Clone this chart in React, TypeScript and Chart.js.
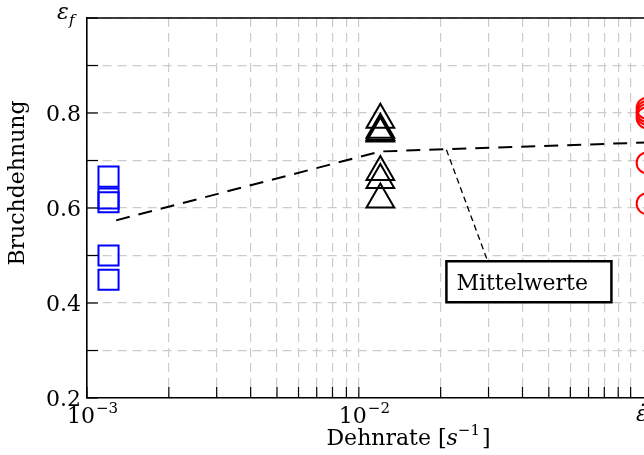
import React, { useEffect, useRef } from "react";
import { Chart, registerables } from "chart.js";

Chart.register(...registerables);

// ---- data ----
const squaresX = 0.0012;
const squaresY = [0.666, 0.62, 0.612, 0.5, 0.449];
const trianglesX = 0.012;
const trianglesY = [0.786, 0.765, 0.76, 0.757, 0.676, 0.659, 0.618];
const circlesX = 0.115;
const circlesY = [0.81, 0.803, 0.797, 0.79, 0.695, 0.609];
const meanX = [0.00128, 0.012, 0.115];
const meanY = [0.574, 0.719, 0.738];

const xTicks = [
  0.001, 0.002, 0.003, 0.004, 0.005, 0.006, 0.007, 0.008, 0.009,
  0.01, 0.02, 0.03, 0.04, 0.05, 0.06, 0.07, 0.08, 0.09,
  0.1, 0.2,
];
const xLabelTicks = [0.001, 0.01];
const xLabelExps = ["−3", "−2"];
const yTicks = [0.2, 0.3, 0.4, 0.5, 0.6, 0.7, 0.8, 0.9, 1.0];
const yLabelTicks = [0.2, 0.4, 0.6, 0.8];
const yLabels = ["0.2", "0.4", "0.6", "0.8"];
const xMin = 0.001;
const xMax = 0.24;
const yMin = 0.2;
const yMax = 1.0;

const annotFrom = { x: 0.021, y: 0.7226 };
const annotTo = { x: 0.0297, y: 0.49 };
const annotText = "Mittelwerte";

const FONT = '"DejaVu Serif"';

const overlay = {
  id: "overlay",
  afterDraw(chart: any) {
    const { ctx, chartArea: a } = chart;
    const x = chart.scales.x;
    const y = chart.scales.y;
    ctx.save();
    const line = (x1: number, y1: number, x2: number, y2: number) => {
      ctx.beginPath();
      ctx.moveTo(x1, y1);
      ctx.lineTo(x2, y2);
      ctx.stroke();
    };
    // top border
    ctx.strokeStyle = "#000";
    ctx.lineWidth = 1.6;
    line(a.left, a.top, a.right, a.top);
    // ticks (inside)
    ctx.lineWidth = 1.2;
    for (const v of xTicks) {
      const px = x.getPixelForValue(v);
      line(px, a.bottom, px, a.bottom - 11);
    }
    for (const v of yTicks) {
      const py = y.getPixelForValue(v);
      line(a.left, py, a.left + 11, py);
    }

    // annotation pointer
    const p1x = x.getPixelForValue(annotFrom.x);
    const p1y = y.getPixelForValue(annotFrom.y);
    const p2x = x.getPixelForValue(annotTo.x);
    const p2y = y.getPixelForValue(annotTo.y);
    ctx.setLineDash([6, 4]);
    ctx.lineWidth = 1.3;
    line(p1x, p1y, p2x, p2y);
    ctx.setLineDash([]);
    // annotation box
    const bx = p1x;
    const by = p2y + 1;
    const bw = 165;
    const bh = 41;
    ctx.fillStyle = "#fff";
    ctx.fillRect(bx, by, bw, bh);
    ctx.lineWidth = 2.5;
    ctx.strokeRect(bx, by, bw, bh);
    ctx.fillStyle = "#000";
    ctx.font = `22px ${FONT}`;
    ctx.textAlign = "left";
    ctx.textBaseline = "alphabetic";
    ctx.fillText(annotText, bx + 10, by + 28.5);

    // y tick labels
    ctx.textAlign = "right";
    yLabelTicks.forEach((v, i) => {
      const py = y.getPixelForValue(v);
      ctx.fillText(yLabels[i], a.left - 6, py + 8);
    });

    // x tick labels 10^n
    ctx.textAlign = "left";
    xLabelTicks.forEach((v, i) => {
      const px = x.getPixelForValue(v);
      ctx.font = `22px ${FONT}`;
      const w = ctx.measureText("10").width;
      const lx = px - 20;
      ctx.fillText("10", lx, a.bottom + 25);
      ctx.font = `15px ${FONT}`;
      ctx.fillText(xLabelExps[i], lx + w + 1, a.bottom + 15);
    });

    // epsilon_f at top of y axis
    ctx.font = `italic 22px ${FONT}`;
    ctx.fillText("ε", 57, 19);
    ctx.font = `italic 15px ${FONT}`;
    ctx.fillText("f", 69, 25);

    // epsilon dot at right end of x axis
    ctx.font = `italic 22px ${FONT}`;
    ctx.fillText("ε\u0307", 636, a.bottom + 23);

    // x axis title
    const parts = [
      { t: "Dehnrate [", f: `22px ${FONT}`, dy: 0 },
      { t: "s", f: `italic 22px ${FONT}`, dy: 0 },
      { t: "−1", f: `15px ${FONT}`, dy: -10 },
      { t: "]", f: `22px ${FONT}`, dy: 0 },
    ];
    let tw = 0;
    const ws = parts.map((p) => {
      ctx.font = p.f;
      const w = ctx.measureText(p.t).width + (p.t === "−1" ? 2 : 0);
      tw += w;
      return w;
    });
    let cx = 408.5 - tw / 2;
    const baseY = a.bottom + 47;
    parts.forEach((p, i) => {
      ctx.font = p.f;
      ctx.fillText(p.t, cx, baseY + p.dy);
      cx += ws[i];
    });

    // y axis title
    ctx.save();
    ctx.translate(24, 183);
    ctx.rotate(-Math.PI / 2);
    ctx.font = `22px ${FONT}`;
    ctx.textAlign = "center";
    ctx.fillText("Bruchdehnung", 0, 0);
    ctx.restore();

    ctx.restore();
  },
};

export default function App() {
  const ref = useRef<HTMLCanvasElement | null>(null);
  useEffect(() => {
    if (!ref.current) return;
    const chart = new Chart(ref.current, {
      type: "scatter",
      data: {
        datasets: [
          {
            type: "line",
            data: meanX.map((v, i) => ({ x: v, y: meanY[i] })),
            borderColor: "#000",
            borderWidth: 2,
            borderDash: [14, 9],
            pointRadius: 0,
            fill: false,
            tension: 0,
          } as any,
          {
            data: squaresY.map((v) => ({ x: squaresX, y: v })),
            pointStyle: "rect",
            pointRadius: 14.2,
            borderColor: "#0000ff",
            backgroundColor: "rgba(0,0,0,0)",
            borderWidth: 2,
            clip: false,
          } as any,
          {
            data: trianglesY.map((v) => ({ x: trianglesX, y: v })),
            pointStyle: "triangle",
            pointRadius: 16,
            borderColor: "#000",
            backgroundColor: "rgba(0,0,0,0)",
            borderWidth: 2,
            clip: false,
          } as any,
          {
            data: circlesY.map((v) => ({ x: circlesX, y: v })),
            pointStyle: "circle",
            pointRadius: 10.5,
            borderColor: "#ff0000",
            backgroundColor: "rgba(0,0,0,0)",
            borderWidth: 2,
            clip: false,
          } as any,
        ],
      },
      options: {
        animation: false,
        responsive: false,
        devicePixelRatio: 1,
        layout: { padding: { left: 87, top: 11, right: 26, bottom: 57 } },
        plugins: { legend: { display: false }, tooltip: { enabled: false } },
        scales: {
          x: {
            type: "logarithmic",
            min: xMin,
            max: xMax,
            afterBuildTicks: (s: any) => {
              s.ticks = xTicks.map((v) => ({ value: v }));
            },
            ticks: { display: false },
            grid: { color: "#cccccc", lineWidth: 1.2, drawTicks: false },
            border: { display: true, color: "#000", width: 1.6, dash: [9, 6] },
          },
          y: {
            type: "linear",
            min: yMin,
            max: yMax,
            afterBuildTicks: (s: any) => {
              s.ticks = yTicks.map((v) => ({ value: v }));
            },
            ticks: { display: false },
            grid: { color: "#cccccc", lineWidth: 1.2, drawTicks: false },
            border: { display: true, color: "#000", width: 1.6, dash: [9, 6] },
          },
        },
      } as any,
      plugins: [overlay],
    });
    return () => chart.destroy();
  }, []);
  return (
    <div
      style={{
        position: "fixed",
        left: 0,
        top: 0,
        width: 644,
        height: 455,
        overflow: "hidden",
        background: "#fff",
      }}
    >
      <canvas ref={ref} width={760} height={455} style={{ display: "block" }} />
    </div>
  );
}
